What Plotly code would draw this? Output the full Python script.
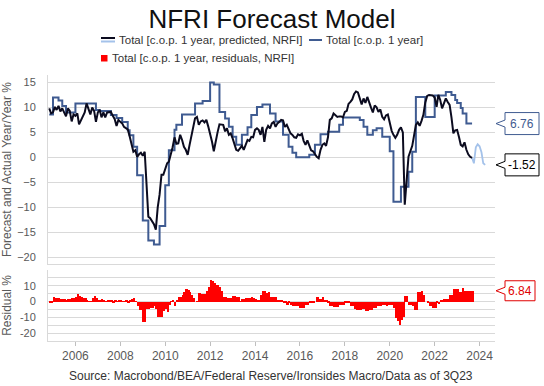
import pandas as pd
import plotly.graph_objects as go

# ---------------- data ----------------
pred_start = "2004-11-01"
predicted = [
    9.8, 8.8, 9.0, 10.1, 9.5, 10.3, 9.2, 9.8, 9.0, 8.2, 9.8, 9.3, 7.2, 8.6, 8.3, 8.8, 6.6, 7.5, 8.4, 9.0,
    10.8, 9.8, 8.6, 10.0, 9.3, 7.1, 9.0, 9.5, 8.0, 9.0, 8.0, 9.0, 9.0, 9.1, 8.3, 7.7, 6.3, 7.5, 7.1, 6.8,
    6.1, 5.8, 5.6, 4.2, 2.5, 1.1, 1.4, 0.1, 0.6, 0.9, 0.3, 1.1, -5.0, -11.9, -12.2, -12.9, -13.4, -14.5, -10.0, -7.5,
    -3.5, -3.5, -2.2, -1.2, -0.9, 0.5, 2.0, 4.0, 2.7, 2.8, 4.5, 3.5, 2.1, 1.5, 0.5, 2.5, 4.0, 5.8, 7.8, 8.1,
    6.5, 7.2, 7.4, 7.0, 7.5, 6.2, 4.8, 3.1, 1.2, 3.5, 5.0, 6.6, 6.6, 6.5, 5.2, 5.8, 4.5, 4.8, 3.8, 2.5,
    1.5, 1.3, 1.8, 2.3, 1.5, 2.5, 3.5, 3.3, 4.1, 4.0, 5.5, 5.8, 5.5, 4.5, 6.1, 3.1, 5.5, 6.3, 5.8, 6.8,
    7.1, 6.1, 6.8, 7.1, 7.5, 7.4, 6.1, 6.5, 5.5, 4.8, 4.5, 4.0, 3.9, 4.6, 4.4, 4.7, 3.3, 2.5, 3.4, 2.5,
    1.4, 1.2, 0.6, 0.1, -0.2, 1.5, 2.5, 2.8, 2.3, 4.0, 7.5, 7.8, 8.8, 8.4, 8.1, 8.2, 8.2, 8.0, 9.1, 9.3,
    10.7, 11.1, 11.6, 12.7, 13.2, 13.0, 11.8, 10.6, 11.8, 10.9, 12.1, 10.7, 10.0, 9.0, 10.4, 10.0, 9.1, 9.6, 8.1, 7.6,
    8.4, 8.6, 7.0, 5.3, 4.5, 3.9, 4.5, 5.5, 6.0, 5.0, -9.5, -5.0, 0.1, 1.2, 2.3, 4.5, 6.5, 7.0, 6.3, 7.3,
    8.5, 11.0, 12.3, 12.5, 12.5, 12.4, 12.0, 10.1, 12.5, 11.5, 9.8, 10.8, 11.8, 11.1, 10.5, 8.0, 4.8, 5.4, 5.5, 4.0,
    2.5, 2.2, 3.0, 1.5, 0.6, 0.1, -0.1,
]

forecast_start = "2023-09-01"
forecast = [-0.1, -1.2, 2.0, 2.6, 2.2, 1.0, -1.2, -1.52]

actual_dates = [
    "2004-11", "2005-01", "2005-04", "2005-06", "2005-08", "2006-01", "2006-12", "2007-02", "2007-08", "2007-11",
    "2008-02", "2008-05", "2008-06", "2008-08", "2008-10", "2009-01", "2009-04", "2009-07", "2009-10", "2010-01",
    "2010-03", "2010-06", "2010-07", "2010-10", "2011-05", "2011-09", "2012-01", "2012-03", "2012-06", "2012-09",
    "2012-11", "2013-01", "2013-03", "2013-06", "2013-09", "2013-11", "2014-02", "2014-05", "2014-09", "2014-12",
    "2015-04", "2015-07", "2015-09", "2015-11", "2016-06", "2016-09", "2016-12", "2017-04", "2017-10", "2017-12",
    "2018-09", "2018-11", "2019-01", "2019-04", "2019-06", "2019-09", "2020-01", "2020-03", "2020-07", "2020-11",
    "2021-01", "2021-03", "2021-08", "2022-01", "2022-07", "2022-10", "2022-12", "2023-01", "2023-03", "2023-04",
    "2023-06", "2023-09",
]
actual = [
    8.6, 12.0, 11.4, 10.3, 9.0, 10.8, 9.5, 9.3, 8.5, 7.9,
    7.1, 5.4, 4.4, 2.1, -3.6, -12.7, -16.7, -17.5, -13.8, -5.6,
    1.4, 5.5, 6.5, 8.6, 10.8, 11.3, 15.0, 14.6, 9.1, 7.8,
    6.1, 4.1, 2.5, 4.5, 6.0, 8.5, 10.1, 10.6, 8.8, 7.2,
    4.5, 2.1, 0.9, 0.0, 0.5, 2.5, 4.6, 5.1, 6.5, 8.0,
    7.5, 6.1, 4.5, 5.4, 5.8, 4.1, 1.2, -8.9, -5.9, -2.9,
    1.1, 12.1, 8.1, 12.4, 13.1, 12.5, 11.5, 10.9, 9.9, 8.8,
    6.76, 6.76,
]

resid_start = "2004-11-01"
residuals = [
    -1.0, -0.8, 3.1, 2.5, 2.0, 2.0, 1.7, 1.7, 1.8, 1.0, 1.8, 1.8, 2.5, 2.5, 2.8, 4.6, 3.5, 3.0, 2.0, 2.0,
    1.0, 0.3, 0.2, 2.5, 3.8, 2.0, 0.8, 0.8, 1.5, 1.1, 0.2, 0.8, 0.6, 0.5, -0.4, 0.6, 0.2, 1.0, 1.0, 0.2,
    0.2, 0.4, -0.6, 1.3, 1.6, 2.0, 0.2, -3.0, -5.2, -5.5, -13.0, -13.0, -5.0, -5.0, -4.2, -4.2, -3.0, -5.0, -9.5, -9.8,
    -9.8, -6.0, -5.0, -6.3, -2.1, 0.2, 1.0, -3.0, 1.0, 3.1, 3.1, 4.2, 6.2, 7.9, 7.5, 6.2, 4.2, 2.0, 0.0, 0.2,
    5.2, 4.6, 4.6, 4.6, 6.6, 9.5, 13.7, 13.0, 11.5, 10.5, 10.5, 9.0, 6.5, 3.1, 3.1, 2.5, 2.5, 2.5, 3.5, 3.8,
    3.1, 3.1, 0.2, 1.5, 1.5, 2.1, 2.1, 2.1, 3.1, 2.5, 1.7, 0.5, 0.5, 4.2, 7.0, 6.5, 5.5, 5.8, 3.1, 3.1,
    3.1, 2.7, 0.6, 0.6, 0.6, -1.0, -1.0, -2.0, -1.0, -2.1, -3.1, -3.1, -3.1, -3.1, -4.2, -4.2, -4.2, -2.0, -2.0, -1.0,
    -1.0, -1.0, 0.0, 2.7, 1.5, 1.5, 2.7, 1.0, 1.0, -0.3, -3.1, -3.1, -3.5, -3.5, -3.5, -2.0, -2.0, -2.0, -1.0, -1.0,
    -1.0, -3.1, -3.1, -4.8, -5.6, -5.6, -5.6, -4.8, -5.0, -6.2, -6.2, -5.2, -5.2, -4.2, -4.2, -3.1, -3.1, -3.1, -2.0, -2.0,
    -3.1, -2.0, -2.0, -2.0, -4.2, -10.4, -12.5, -14.6, -12.0, -10.0, 3.5, 3.5, -2.0, -2.0, -3.1, -5.2, -5.2, 6.2, 6.2, 6.9,
    4.2, 0.0, -0.5, -3.1, -3.1, -4.2, -4.2, -1.0, -1.5, 0.6, 0.6, 1.5, 1.5, 1.5, 4.2, 4.2, 7.7, 7.7, 7.7, 6.2,
    6.2, 8.3, 6.9, 6.9, 6.9, 6.9, 6.84,
]

top_ticks = [-20, -15, -10, -5, 0, 5, 10, 15]
bottom_ticks = [-25, -20, -15, -10, -5, 0, 5, 10, 15, 20]
bottom_ticktext = ["", "-20", "", "-10", "", "0", "", "10", "", ""]
x_ticks = ["2006-01-01", "2008-01-01", "2010-01-01", "2012-01-01", "2014-01-01",
           "2016-01-01", "2018-01-01", "2020-01-01", "2022-01-01", "2024-01-01"]
x_ticktext = ["2006", "2008", "2010", "2012", "2014", "2016", "2018", "2020", "2022", "2024"]

name_pred = "Total [c.o.p. 1 year, predicted, NRFI]"
name_act = "Total [c.o.p. 1 year]"
name_res = "Total [c.o.p. 1 year, residuals, NRFI]"

# ---------------- style ----------------
C_BLACK = "#0b0b1f"
C_BLUE = "#3f5b91"
C_LIGHT = "#a4c2ea"
C_RED = "#ff0000"
C_GRID = "#d9d9d9"
C_TEXT = "#595959"
FONT = "Arial, 'Liberation Sans', sans-serif"

W, H = 544, 386
ML, MR, MT, MB = 48, 49, 75, 45


def fx(px):
    return (px - ML) / (W - ML - MR)


def fy(py):
    return (H - MB - py) / (H - MT - MB)


pred_dates = pd.date_range(pred_start, periods=len(predicted), freq="MS")
fc_dates = pd.date_range(forecast_start, periods=len(forecast), freq="MS")
res_dates = pd.date_range(resid_start, periods=len(residuals), freq="MS")
act_dates = pd.to_datetime([d + "-01" for d in actual_dates])

fig = go.Figure()
fig.add_trace(go.Scatter(x=act_dates, y=actual, mode="lines", line=dict(color=C_BLUE, width=2, shape="hv"),
                         name=name_act, xaxis="x", yaxis="y", showlegend=False))
fig.add_trace(go.Scatter(x=fc_dates, y=forecast, mode="lines", line=dict(color=C_LIGHT, width=1.8),
                         name=name_pred, xaxis="x", yaxis="y", showlegend=False))
fig.add_trace(go.Scatter(x=pred_dates, y=predicted, mode="lines", line=dict(color=C_BLACK, width=2),
                         name=name_pred, xaxis="x", yaxis="y", showlegend=False))
fig.add_trace(go.Bar(x=res_dates, y=residuals, marker=dict(color=C_RED, line=dict(width=0)),
                     xperiod="M1", xperiodalignment="middle",
                     name=name_res, xaxis="x2", yaxis="y2", showlegend=False))

x_range = ["2004-10-12", "2024-09-08"]
top_dom = [fy(264), 1.0]
bot_dom = [0.0, fy(270)]

fig.update_layout(
    width=W, height=H,
    margin=dict(l=ML, r=MR, t=MT, b=MB, autoexpand=False),
    paper_bgcolor="white", plot_bgcolor="white",
    font=dict(family=FONT, color=C_TEXT),
    bargap=0,
    title=dict(text="NFRI Forecast Model", x=0.5, xanchor="center", y=1 - 19 / H, yanchor="middle",
               font=dict(size=26, color="#111111", family=FONT)),
    xaxis=dict(domain=[0, 1], anchor="y", range=x_range, type="date", matches="x2", automargin=False,
               showticklabels=False, showgrid=False, showline=True, linecolor=C_GRID, linewidth=1,
               ticks="", zeroline=False),
    yaxis=dict(domain=top_dom, range=[-21.4, 16.5], tickvals=top_ticks, showgrid=True, gridcolor=C_GRID,
               gridwidth=1, zeroline=False, showline=True, linecolor=C_GRID, linewidth=1, ticks="",
               automargin=False, ticklabelstandoff=9, tickfont=dict(size=11, color=C_TEXT),
               title=dict(text="Forecast and Actual Year/Year %", font=dict(size=12, color=C_TEXT), standoff=6)),
    xaxis2=dict(domain=[0, 1], anchor="y2", range=x_range, type="date", automargin=False,
                tickvals=x_ticks, ticktext=x_ticktext, tickfont=dict(size=12, color=C_TEXT),
                showgrid=False, showline=True, linecolor=C_GRID, linewidth=1,
                ticks="outside", ticklen=4, tickcolor="#bfbfbf", zeroline=False),
    yaxis2=dict(domain=bot_dom, range=[-25, 20], tickvals=bottom_ticks, ticktext=bottom_ticktext,
                showgrid=True, gridcolor=C_GRID, gridwidth=1, zeroline=False, showline=True,
                linecolor=C_GRID, linewidth=1, ticks="", ticklabelstandoff=9, automargin=False,
                tickfont=dict(size=11, color=C_TEXT),
                title=dict(text="Residual %", font=dict(size=12, color=C_TEXT), standoff=6)),
)

# ---------------- custom legend ----------------
shapes = []
annotations = []
LEG_FONT = dict(size=11.5, color="#333333", family=FONT)
# row 1
shapes.append(dict(type="line", xref="paper", yref="paper", x0=fx(101), x1=fx(115), y0=fy(38), y1=fy(38),
                   line=dict(color=C_BLACK, width=2)))
shapes.append(dict(type="line", xref="paper", yref="paper", x0=fx(101), x1=fx(115), y0=fy(41.5), y1=fy(41.5),
                   line=dict(color=C_LIGHT, width=2)))
annotations.append(dict(text=name_pred, xref="paper", yref="paper", x=fx(117), y=fy(40), xanchor="left",
                        yanchor="middle", showarrow=False, font=LEG_FONT))
shapes.append(dict(type="line", xref="paper", yref="paper", x0=fx(309), x1=fx(322), y0=fy(40), y1=fy(40),
                   line=dict(color=C_BLUE, width=2)))
annotations.append(dict(text=name_act, xref="paper", yref="paper", x=fx(324), y=fy(40), xanchor="left",
                        yanchor="middle", showarrow=False, font=LEG_FONT))
# row 2
shapes.append(dict(type="rect", xref="paper", yref="paper", x0=fx(101), x1=fx(107.5), y0=fy(61.5), y1=fy(55),
                   line=dict(width=0), fillcolor=C_RED))
annotations.append(dict(text=name_res, xref="paper", yref="paper", x=fx(110), y=fy(58), xanchor="left",
                        yanchor="middle", showarrow=False, font=LEG_FONT))


# ---------------- value callouts ----------------
def callout(value, yref, text, color, width, height=22):
    h = height / 2
    path = f"M 9 3.5 L 9 {h} L {9 + width} {h} L {9 + width} {-h} L 9 {-h} L 9 -3.5 L 0 0 Z"
    shapes.append(dict(type="path", xref="paper", yref=yref, xsizemode="pixel", ysizemode="pixel",
                       xanchor=fx(496), yanchor=value, path=path, fillcolor="white",
                       line=dict(color=color, width=1)))
    annotations.append(dict(text=text, xref="paper", yref=yref, x=fx(505 + width / 2), y=value,
                            xanchor="center", yanchor="middle", showarrow=False,
                            font=dict(size=12, color=color, family=FONT)))


callout(actual[-1], "y", f"{actual[-1]:.2f}", C_BLUE, 34)
callout(forecast[-1], "y", f"{forecast[-1]:.2f}", "#000000", 34)
callout(residuals[-1], "y2", f"{residuals[-1]:.2f}", "#e00000", 30, height=20)

# source
annotations.append(dict(text="Source: Macrobond/BEA/Federal Reserve/Ironsides Macro/Data as of 3Q23",
                        xref="paper", yref="paper", x=fx(271), y=fy(376), xanchor="center", yanchor="middle",
                        showarrow=False, font=dict(size=12, color="#333333", family=FONT)))

fig.update_layout(shapes=shapes, annotations=annotations)
fig.write_html("out.html", config={"displayModeBar": False},
               post_script="document.body.style.margin='0';document.body.style.padding='0';")
